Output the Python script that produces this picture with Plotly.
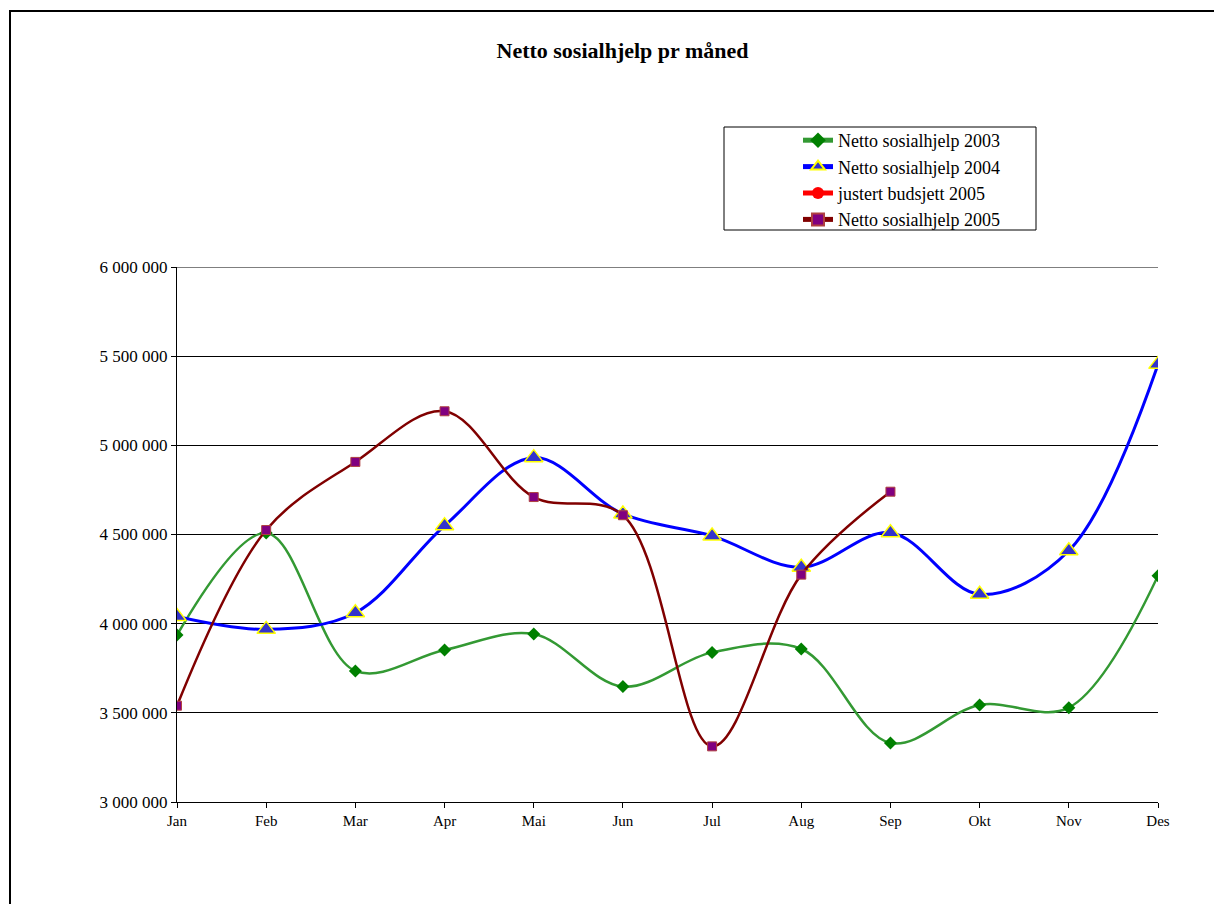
import plotly.graph_objects as go

months = ["Jan", "Feb", "Mar", "Apr", "Mai", "Jun", "Jul", "Aug", "Sep", "Okt", "Nov", "Des"]

netto_2003 = [3936000, 4508000, 3735000, 3852000, 3942000, 3647000, 3839000, 3858000, 3331000, 3544000, 3529000, 4269000]
netto_2004 = [4040000, 3968000, 4061000, 4549000, 4931000, 4615000, 4492000, 4316000, 4510000, 4165000, 4409000, 5454000]
budsjett_2005 = [None] * 12
netto_2005 = [3540000, 4525000, 4907000, 5191000, 4710000, 4608000, 3312000, 4275000, 4740000, None, None, None]

y_ticks = [3000000, 3500000, 4000000, 4500000, 5000000, 5500000, 6000000]
y_ticktext = ["3 000 000", "3 500 000", "4 000 000", "4 500 000", "5 000 000", "5 500 000", "6 000 000"]

W, H = 1222, 904
OFF = 8  # page body margin
# plot area in screen pixels
L, R, T, B = 177, 1158, 267, 802
pw, ph = R - L, B - T

def px(x):
    return (x - L) / pw

def py(y):
    return (B - y) / ph

FONT = "Liberation Serif, Times New Roman, serif"

fig = go.Figure()
fig.add_trace(go.Scatter(
    x=months, y=netto_2003, name="Netto sosialhjelp 2003", mode="lines+markers",
    line=dict(color="#339933", width=2.5, shape="spline", smoothing=1.0),
    marker=dict(symbol="diamond", size=10, color="#008000", line=dict(width=0)),
))
fig.add_trace(go.Scatter(
    x=months, y=netto_2004, name="Netto sosialhjelp 2004", mode="lines+markers",
    line=dict(color="#0000FF", width=3, shape="spline", smoothing=1.0),
    marker=dict(symbol="triangle-up", size=16, color="#3333CC", line=dict(width=1.5, color="#FFFF00")),
))
fig.add_trace(go.Scatter(
    x=months, y=budsjett_2005, name="justert budsjett 2005", mode="lines+markers",
    line=dict(color="#FF0000", width=1),
    marker=dict(symbol="circle", size=9, color="#FF0000"),
))
fig.add_trace(go.Scatter(
    x=months, y=netto_2005, name="Netto sosialhjelp 2005", mode="lines+markers",
    line=dict(color="#800000", width=2.5, shape="spline", smoothing=1.0),
    marker=dict(symbol="square", size=9, color="#800080", line=dict(width=1, color="#B04040")),
))

fig.update_layout(
    width=W, height=H,
    margin=dict(l=L - OFF, r=W - (R - OFF), t=T - OFF, b=H - (B - OFF), pad=0),
    paper_bgcolor="white", plot_bgcolor="white",
    font=dict(family=FONT, color="black", size=16),
    title=dict(text="<b>Netto sosialhjelp pr måned</b>", x=(622.5 - OFF) / W, xanchor="center",
               y=1 - (50 - OFF) / H, yanchor="middle", xref="container", yref="container",
               font=dict(family=FONT, size=22, color="black")),
    showlegend=True,
    legend=dict(x=px(798), y=py(122), xanchor="left", yanchor="top",
                bgcolor="rgba(0,0,0,0)", borderwidth=0,
                font=dict(family=FONT, size=18, color="black"),
                tracegroupgap=0, itemsizing="constant"),
    shapes=[
        dict(type="rect", xref="paper", yref="paper",
             x0=px(10), x1=px(1260), y0=py(940), y1=py(11),
             line=dict(color="black", width=2), fillcolor="rgba(0,0,0,0)", layer="below"),
        dict(type="rect", xref="paper", yref="paper",
             x0=px(724), x1=px(1036), y0=py(230), y1=py(127),
             line=dict(color="black", width=1), fillcolor="white", layer="below"),
        # top gridline at the upper end of the value axis
        dict(type="line", xref="paper", yref="y", x0=0, x1=1,
             y0=y_ticks[-1], y1=y_ticks[-1],
             line=dict(color="black", width=1), layer="below"),
    ],
)

fig.update_xaxes(
    type="category", range=[0, 11], showgrid=False,
    showline=True, linecolor="black", linewidth=1,
    ticks="outside", ticklen=5, tickcolor="black",
    tickfont=dict(family=FONT, size=15, color="black"),
    zeroline=False, fixedrange=True,
)
fig.update_yaxes(
    range=[3000000, 6000000], tickvals=y_ticks, ticktext=y_ticktext,
    showgrid=True, gridcolor="black", gridwidth=1,
    showline=True, linecolor="black", linewidth=1,
    ticks="outside", ticklen=5, tickcolor="black",
    tickfont=dict(family=FONT, size=17, color="black"),
    zeroline=False, fixedrange=True,
)

fig.write_html("out.html")
